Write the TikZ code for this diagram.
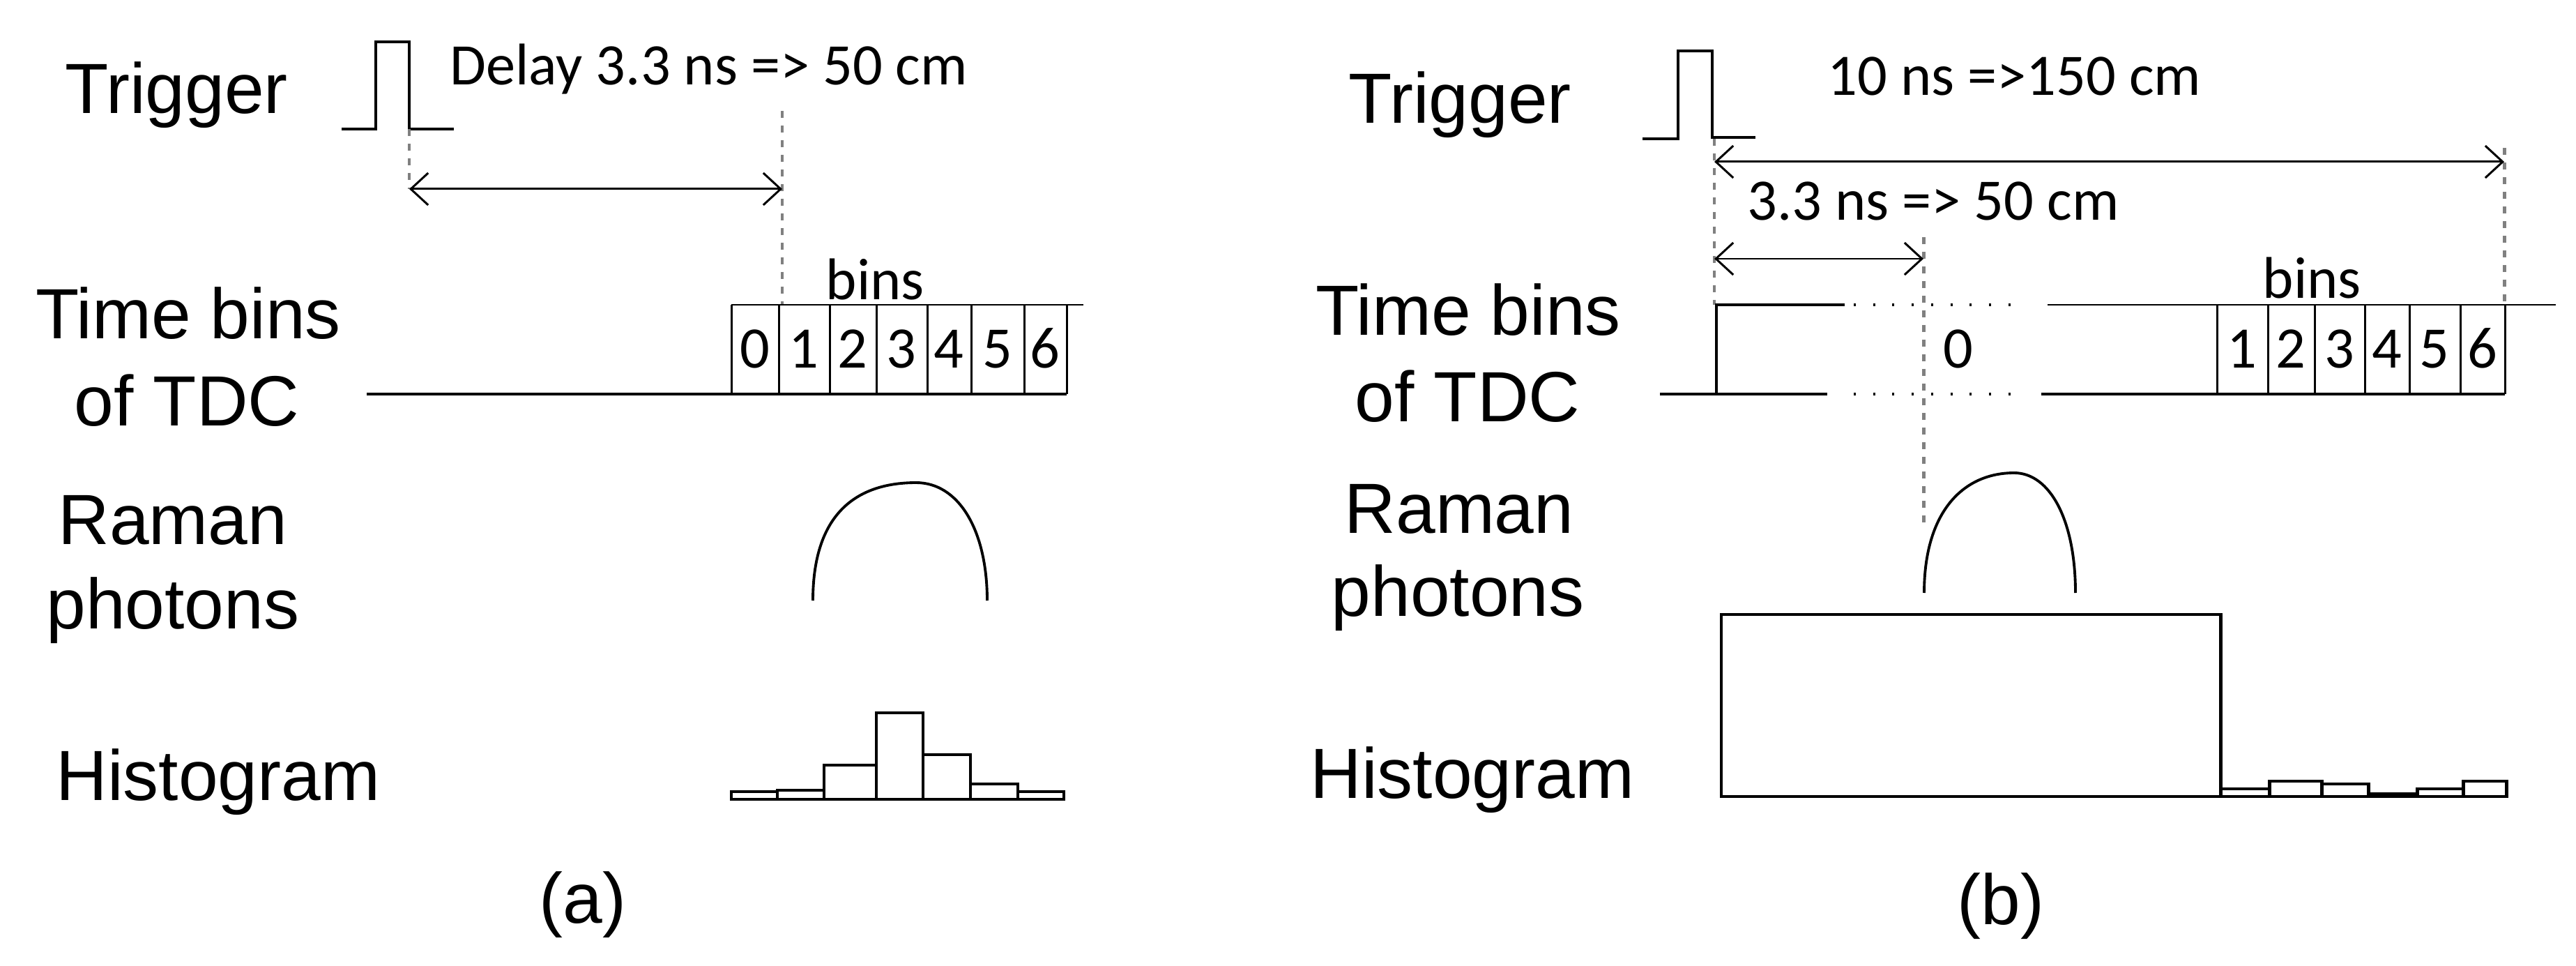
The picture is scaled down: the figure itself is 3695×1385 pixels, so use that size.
\documentclass[tikz,border=0pt]{standalone}
\usepackage{fontspec}
\setmainfont{Liberation Sans}
\newfontfamily\carlito{Carlito}
\usetikzlibrary{arrows.meta}
\begin{document}
\begin{tikzpicture}[x=0.1mm,y=-0.1mm,
  lbl/.style={font=\fontsize{29}{34}\selectfont,inner sep=0pt},
  note/.style={font=\carlito\fontsize{24}{28}\selectfont,inner sep=0pt},
  sig/.style={line width=1.4pt},
  cell/.style={line width=0.85pt},
  hump/.style={line width=1.1pt},
  guide/.style={line width=1.4pt,gray,dash pattern=on 1mm off 1.1mm},
  dotline/.style={line width=0.9pt,dash pattern=on 0.3mm off 2.47mm},
  dim/.style={line width=0.85pt,{Straight Barb[length=2.5mm,width=4.6mm]}-{Straight Barb[length=2.5mm,width=4.6mm]}}]
%\draw [help lines,step=100] (0,0) grid (3695,1385);
\useasboundingbox (0,0) rectangle (3695,1385);

% (a) delayed window
\node[lbl,anchor=base west] (trigA) at (93,163) {Trigger};
\draw[sig] (490,185) -- (539,185) -- (539,60) -- (587,60) -- (587,185) -- (651,185);
\node[note,anchor=base west] (delayA) at (645,122) {Delay 3.3 ns => 50 cm};
\draw[guide] (587,185) -- (587,271);
\draw[guide] (1122,159) -- (1122,437);
\draw[dim] (587,271) -- (1122,271);

\node[lbl,anchor=base] (timeA) at (270,486) {Time bins};
\node[lbl,anchor=base] (tdcA) at (268,611) {of TDC};
\draw[sig] (526,565) -- (1530,565);
\draw[cell] (1049,437) -- (1554,437);
\foreach \x in {1049,1117,1190,1257,1330,1393,1469,1530}
  \draw[cell] (\x,437) -- (\x,565);
\foreach \d/\x in {0/1083,1/1153,2/1223,3/1293,4/1361,5/1431,6/1499}
  \node[note,anchor=base] (binA\d) at (\x,528) {\d};
\node[note,anchor=base west] (binsA) at (1184,430) {bins};

\node[lbl,anchor=base] (ramanA) at (248,780) {Raman};
\node[lbl,anchor=base] (photA) at (248,901) {photons};
\draw[hump] (1166,861) .. controls (1166,730) and (1235,692) .. (1314,692)
  .. controls (1375,692) and (1416,760) .. (1416,861);

\node[lbl,anchor=base west] (histA) at (80,1147) {Histogram};
\foreach \xa/\xb/\h in {1049/1115/1135,1115/1182/1133,1182/1257/1097,1257/1324/1022,
    1324/1392/1082,1392/1460/1124,1460/1526/1135}
  \draw[sig] (\xa,1146) rectangle (\xb,\h);
\node[lbl,anchor=base] (capA) at (836,1323) {(a)};

% (b) full window
\node[lbl,anchor=base west] (trigB) at (1934,177) {Trigger};
\draw[sig] (2356,199) -- (2407,199) -- (2407,73) -- (2456,73) -- (2456,197) -- (2518,197);
\node[note,anchor=base west] (fullB) at (2621,137) {10 ns =>150 cm};
\node[note,anchor=base west] (delayB) at (2506,316) {3.3 ns => 50 cm};
\draw[guide] (2459,199) -- (2459,437);
\draw[guide] (3592,212) -- (3592,437);
\draw[guide] (2759,340) -- (2759,751);
\draw[dim] (2459,232) -- (3592,232);
\draw[dim] (2459,371) -- (2759,371);

\node[lbl,anchor=base] (timeB) at (2106,481) {Time bins};
\node[lbl,anchor=base] (tdcB) at (2105,605) {of TDC};
\draw[sig] (2381,565) -- (2621,565);
\draw[sig] (2462,565) -- (2462,437) -- (2646,437);
\draw[dotline] (2659,437) -- (2884,437);
\draw[dotline] (2659,565) -- (2884,565);
\draw[cell] (2937,437) -- (3666,437);
\draw[sig] (2928,565) -- (3593,565);
\foreach \x in {3180,3253,3320,3392,3456,3529,3593}
  \draw[cell] (\x,437) -- (\x,565);
\node[note,anchor=base] (binB0) at (2809,528) {0};
\foreach \d/\x in {1/3216,2/3286,3/3356,4/3424,5/3492,6/3561}
  \node[note,anchor=base] (binB\d) at (\x,528) {\d};
\node[note,anchor=base west] (binsB) at (3245,428) {bins};

\node[lbl,anchor=base] (ramanB) at (2093,764) {Raman};
\node[lbl,anchor=base] (photB) at (2091,883) {photons};
\draw[hump] (2760,850) .. controls (2760,735) and (2815,678) .. (2889,678)
  .. controls (2940,678) and (2977,745) .. (2977,850);

\node[lbl,anchor=base west] (histB) at (1879,1144) {Histogram};
\draw[sig] (2469,1142) rectangle (3185,881);
\foreach \xa/\xb/\h in {3185/3255/1131,3255/3330/1120,3330/3397/1124,3397/3467/1138,
    3467/3533/1131,3533/3595/1120}
  \draw[sig] (\xa,1142) rectangle (\xb,\h);
\node[lbl,anchor=base] (capB) at (2870,1325) {(b)};
\end{tikzpicture}
\end{document}
